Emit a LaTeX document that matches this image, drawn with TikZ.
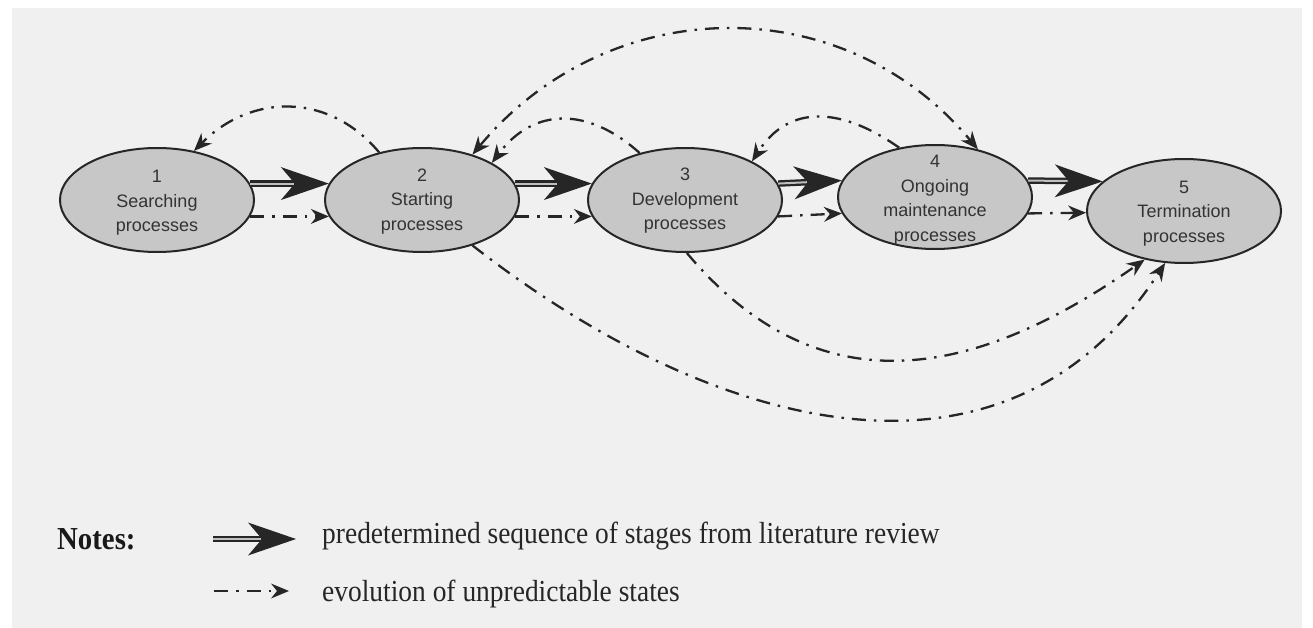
\documentclass[tikz,border=0pt]{standalone}
\usepackage{fontspec}
\setmainfont{Liberation Serif}
\newfontfamily\sansfam{Liberation Sans}
\usetikzlibrary{arrows.meta,shapes.geometric}
\begin{document}
\begin{tikzpicture}[x=1pt,y=1pt,
  stage/.style={ellipse, draw=black!85, line width=2pt, fill=black!22,
    minimum width=194pt, minimum height=104pt, inner sep=0pt},
  stagetext/.style={align=center, inner sep=0pt, text=black!80,
    font=\sansfam\fontsize{18}{24.5}\selectfont},
  thickarr/.style={line width=6.5pt, draw=black!85,
    -{Stealth[length=48pt,width=33pt,inset=14pt,line width=0pt]}},
  thickin/.style={line width=2pt, draw=black!25, shorten >=35pt},
  dd/.style={line width=2.3pt, draw=black!85,
    dash pattern=on 14pt off 8pt on 2.5pt off 8pt,
    -{Stealth[length=18pt,width=15pt,inset=6pt,line width=0pt]}},
  ddboth/.style={dd, {Stealth[length=18pt,width=15pt,inset=6pt,line width=0pt]}-{Stealth[length=18pt,width=15pt,inset=6pt,line width=0pt]}},
  legtext/.style={anchor=base west, inner sep=0pt, text=black!85,
    font=\fontsize{30.5}{34}\selectfont},
]
\useasboundingbox (0,0) rectangle (1313,-628);
\fill[white] (0,0) rectangle (1313,-628);
\fill[black!6] (12,-8) rectangle (1302,-628);

% stages
\node[stage] (n1) at (157,-200) {};
\node[stage] (n2) at (422,-200) {};
\node[stage] (n3) at (685,-200) {};
\node[stage] (n4) at (935,-197) {};
\node[stage] (n5) at (1184,-211) {};

\node[stagetext] (t1) at (157,-203) {1\\Searching\\processes};
\node[stagetext] (t2) at (422,-201.5) {2\\Starting\\processes};
\node[stagetext] (t3) at (685,-201) {3\\Development\\processes};
\node[stagetext] (t4) at (935,-200) {4\\Ongoing\\maintenance\\processes};
\node[stagetext] (t5) at (1184,-213.5) {5\\Termination\\processes};

% predetermined sequence
\draw[thickarr] (n1.10) -- (n2.170);
\draw[thickin]  (n1.10) -- (n2.170);
\draw[thickarr] (n2.10) -- (n3.170);
\draw[thickin]  (n2.10) -- (n3.170);
\draw[thickarr] (n3.10) -- (n4.170);
\draw[thickin]  (n3.10) -- (n4.170);
\draw[thickarr] (n4.10) -- (n5.160);
\draw[thickin]  (n4.10) -- (n5.160);

% unpredictable evolution, straight
\draw[dd] (n1.-10) -- (n2.190);
\draw[dd] (n2.-10) -- (n3.190);
\draw[dd] (n3.-10) -- (n4.190);
\draw[dd] (n4.-10) -- (n5.181);

% unpredictable evolution, curved
\draw[dd] (n2.132) to[out=130,in=45,looseness=1.1] (n1.53);
\draw[dd] (n3.134) to[out=138,in=53,looseness=1.2] (n2.28);
\draw[dd] (n4.126) to[out=145,in=57,looseness=1.2] (n3.30);
\draw[ddboth] (n2.42) to[out=50,in=130,looseness=1.07] (n4.48);
\draw[dd] (n3.-88) to[out=-50,in=215,looseness=1.15] (n5.231);
\draw[dd] (n2.-42) to[out=-38,in=237,looseness=1.1] (n5.250);

% legend
\node[anchor=base west, inner sep=0pt, text=black!90,
  font=\fontsize{32}{36}\selectfont\bfseries] (notes) at (57,-549) {\scalebox{0.9}[1]{Notes:}};
\coordinate (la1) at (213,-539);
\coordinate (lb1) at (296,-539);
\draw[thickarr] (la1) -- (lb1);
\draw[thickin]  (la1) -- (lb1);
\coordinate (la2) at (214,-591);
\coordinate (lb2) at (289,-591);
\draw[dd] (la2) -- (lb2);
\node[legtext] (lt1) at (322,-543) {\scalebox{0.9}[1]{predetermined sequence of stages from literature review}};
\node[legtext] (lt2) at (322,-601) {\scalebox{0.9}[1]{evolution of unpredictable states}};
\end{tikzpicture}
\end{document}
